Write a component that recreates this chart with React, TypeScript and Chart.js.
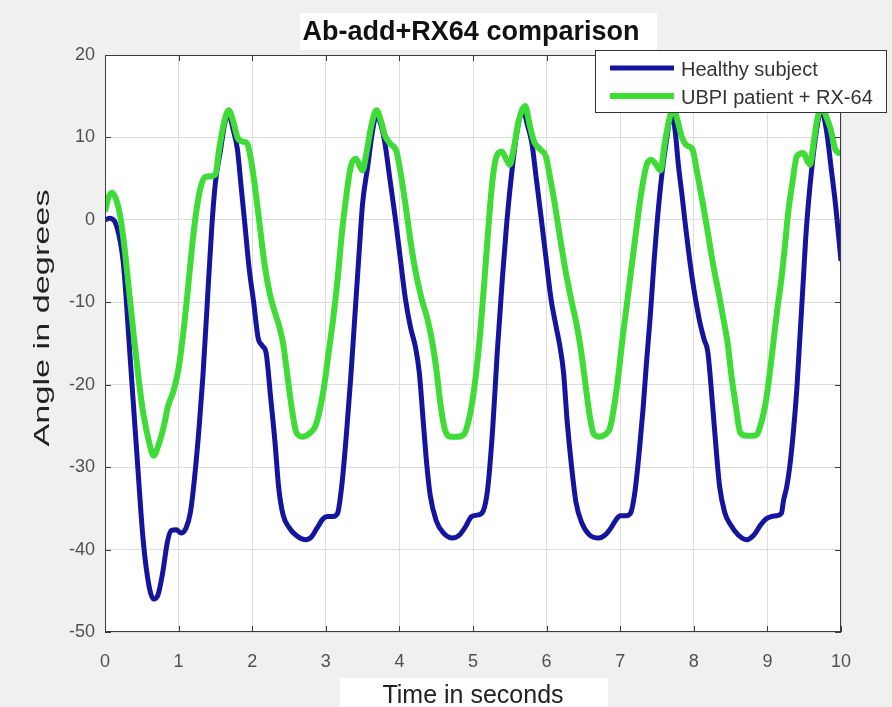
import React, { useEffect, useRef } from "react";
import { Chart, registerables } from "chart.js";

Chart.register(...registerables);

const chartTitle = "Ab-add+RX64 comparison";
const xAxisLabel = "Time in seconds";
const yAxisLabel = "Angle in degrees";
const seriesLabels = ["Healthy subject", "UBPI patient + RX-64"];
const seriesColors = ["#14149e", "#3fdc38"];

const xTickValues = [0, 1, 2, 3, 4, 5, 6, 7, 8, 9, 10];
const yTickValues = [-50, -40, -30, -20, -10, 0, 10, 20];

const healthyTime = [
  0, 0.07, 0.16, 0.25, 0.34, 0.43, 0.52, 0.6, 0.66, 0.72,
  0.78, 0.85, 0.9, 0.97, 1.03, 1.1, 1.16, 1.22, 1.28, 1.33,
  1.39, 1.45, 1.5, 1.57, 1.63, 1.68, 1.74, 1.8, 1.85, 1.9,
  1.96, 2.02, 2.08, 2.14, 2.19, 2.25, 2.31, 2.36, 2.42, 2.5,
  2.6, 2.72, 2.8, 2.88, 2.96, 3.02, 3.1, 3.16, 3.22, 3.28,
  3.34, 3.4, 3.46, 3.5, 3.57, 3.63, 3.69, 3.75, 3.8, 3.87,
  3.94, 4.01, 4.08, 4.15, 4.22, 4.27, 4.32, 4.37, 4.42, 4.5,
  4.6, 4.72, 4.82, 4.9, 4.98, 5.07, 5.14, 5.2, 5.27, 5.33,
  5.4, 5.46, 5.53, 5.6, 5.68, 5.74, 5.8, 5.86, 5.92, 5.99,
  6.06, 6.13, 6.18, 6.23, 6.28, 6.34, 6.4, 6.48, 6.58, 6.71,
  6.8, 6.88, 6.95, 7.0, 7.08, 7.14, 7.2, 7.26, 7.31, 7.36,
  7.41, 7.46, 7.5, 7.57, 7.64, 7.7, 7.75, 7.79, 7.84, 7.88,
  7.98, 8.07, 8.14, 8.19, 8.26, 8.31, 8.35, 8.42, 8.5, 8.6,
  8.72, 8.82, 8.91, 8.98, 9.05, 9.12, 9.19, 9.22, 9.26, 9.3,
  9.35, 9.4, 9.44, 9.48, 9.53, 9.6, 9.67, 9.73, 9.8, 9.87,
  9.93, 10,
];
const healthyAngle = [
  0, 0.2, -0.8, -5.3, -16.5, -28, -39, -44.5, -46, -45.5,
  -43, -39, -37.7, -37.6, -38, -37.4, -35.5, -31, -25, -19,
  -10, -1, 4.5, 8.5, 11.8, 12.8, 11, 8.5, 4, -0.5,
  -6, -10, -14.3, -15.3, -16.2, -21.5, -27, -32.5, -35.8, -37.3,
  -38.3, -38.8, -38.5, -37.4, -36.3, -36, -36, -35.6, -32, -26,
  -19, -11, -3, 2, 6.5, 10.5, 12.8, 11.5, 9.5, 5,
  0.5, -4.5, -9.5, -13, -15.5, -18.5, -24, -29.5, -33.5, -36.5,
  -38, -38.6, -38.2, -37.2, -36, -35.8, -35.3, -32.6, -25, -16,
  -7, -0.2, 6, 10.8, 13.3, 11.5, 9.3, 5, 0.7, -4.5,
  -9.6, -13, -15.3, -18.5, -24.5, -30, -34.3, -36.8, -38.2, -38.6,
  -38.2, -37.3, -36.3, -35.9, -35.9, -35.6, -33, -28, -23, -17,
  -11.5, -5, -0.5, 5.8, 10.3, 13.2, 10.5, 6.7, 3, -0.2,
  -7.2, -11.9, -14.5, -16, -23, -28.5, -32.3, -35.5, -37, -38.2,
  -38.8, -38.2, -37, -36.3, -36, -35.9, -35.6, -34, -32.5, -30.2,
  -26, -20.5, -14.5, -8.5, -1, 6, 11, 13.3, 11, 6,
  1.5, -5,
];

const patientTime = [
  0, 0.05, 0.1, 0.15, 0.2, 0.26, 0.32, 0.39, 0.46, 0.52,
  0.6, 0.66, 0.72, 0.8, 0.86, 0.93, 1.0, 1.06, 1.12, 1.18,
  1.24, 1.3, 1.36, 1.45, 1.5, 1.55, 1.61, 1.68, 1.74, 1.8,
  1.87, 1.93, 1.98, 2.03, 2.1, 2.17, 2.24, 2.3, 2.37, 2.42,
  2.48, 2.54, 2.6, 2.68, 2.78, 2.86, 2.92, 2.98, 3.04, 3.1,
  3.16, 3.22, 3.28, 3.34, 3.41, 3.47, 3.5, 3.55, 3.62, 3.69,
  3.75, 3.8, 3.88, 3.96, 4.02, 4.08, 4.15, 4.22, 4.3, 4.38,
  4.44, 4.5, 4.56, 4.62, 4.7, 4.8, 4.88, 4.95, 5.0, 5.05,
  5.1, 5.15, 5.2, 5.25, 5.3, 5.39, 5.46, 5.5, 5.55, 5.62,
  5.71, 5.77, 5.83, 5.92, 5.99, 6.05, 6.11, 6.18, 6.25, 6.33,
  6.41, 6.47, 6.53, 6.59, 6.64, 6.72, 6.8, 6.86, 6.92, 6.98,
  7.03, 7.08, 7.15, 7.22, 7.29, 7.36, 7.42, 7.48, 7.55, 7.6,
  7.67, 7.72, 7.78, 7.84, 7.91, 7.98, 8.05, 8.12, 8.19, 8.26,
  8.33, 8.4, 8.46, 8.51, 8.57, 8.63, 8.72, 8.8, 8.86, 8.92,
  8.98, 9.04, 9.09, 9.14, 9.19, 9.24, 9.28, 9.34, 9.4, 9.49,
  9.55, 9.58, 9.63, 9.68, 9.74, 9.8, 9.86, 9.92, 10,
];
const patientAngle = [
  1, 2.8, 3.3, 2.5, 0.8, -3, -8, -14, -19.5, -23.5,
  -27, -28.6, -27.5, -25, -22.5, -20.8, -18, -14, -9, -3.5,
  1, 4, 5.2, 5.3, 5.5, 8.5, 11.5, 13.3, 12, 10,
  9.5, 9.3, 7.5, 4.5, -0.5, -5.5, -9, -11, -13, -15,
  -19, -23, -25.8, -26.3, -25.9, -25, -23, -20, -16, -12,
  -7.2, -1.5, 3, 6.5, 7.4, 6.4, 6, 8, 11.5, 13.3,
  12, 10.3, 9.2, 8.3, 5.5, 2, -2.5, -6.3, -9.5, -12,
  -14.5, -18, -22.5, -25.5, -26.3, -26.3, -26, -24, -21.5, -18,
  -13.5, -8, -2, 3.5, 7, 8.3, 7.2, 6.7, 8.5, 12,
  13.8, 11.5, 9.5, 8.5, 7.7, 5, 2, -2, -5.8, -9.5,
  -12.8, -16, -20.1, -24, -26, -26.3, -26, -25.3, -22.5, -18.5,
  -14.5, -11, -6, -1.1, 3.5, 6.7, 7.3, 6.8, 6, 9,
  12.3, 13.7, 12, 10, 9, 8.6, 5.5, 2.1, -1.5, -5.3,
  -8.5, -11.9, -15, -18.8, -22.5, -25.8, -26.2, -26.2, -26, -24.5,
  -22, -18, -14.2, -10.5, -7.2, -3, 0.7, 4.5, 7.7, 8.1,
  7, 6.7, 9.5, 12.3, 13.8, 12.5, 11, 8.6, 8,
];

const FONT = '"Liberation Sans", Arial, Helvetica, sans-serif';

const decorPlugin = {
  id: "matlabDecor",
  beforeDraw(chart: any) {
    const { ctx, chartArea: a, width, height } = chart;
    ctx.save();
    ctx.fillStyle = "#f0f0f0";
    ctx.fillRect(0, 0, width, height);
    ctx.fillStyle = "#ffffff";
    ctx.fillRect(a.left, a.top, a.right - a.left, a.bottom - a.top);
    ctx.restore();
  },
  afterDatasetsDraw(chart: any) {
    const { ctx, chartArea: a, scales } = chart;
    ctx.save();
    ctx.strokeStyle = "#3a3a3a";
    ctx.lineWidth = 1;
    ctx.beginPath();
    const tl = 6;
    for (const v of xTickValues) {
      const px = Math.round(scales.x.getPixelForValue(v)) + 0.5;
      ctx.moveTo(px, a.bottom);
      ctx.lineTo(px, a.bottom - tl);
      ctx.moveTo(px, a.top);
      ctx.lineTo(px, a.top + tl);
    }
    for (const v of yTickValues) {
      const py = Math.round(scales.y.getPixelForValue(v)) + 0.5;
      ctx.moveTo(a.left, py);
      ctx.lineTo(a.left + tl, py);
      ctx.moveTo(a.right, py);
      ctx.lineTo(a.right - tl, py);
    }
    ctx.stroke();
    ctx.strokeRect(a.left + 0.5, a.top + 0.5, a.right - a.left - 1, a.bottom - a.top - 1);
    ctx.restore();
  },
  afterDraw(chart: any) {
    const { ctx, chartArea: a } = chart;
    const cx = (a.left + a.right) / 2;
    ctx.save();
    // Title with white backing
    ctx.fillStyle = "#ffffff";
    ctx.fillRect(300, 13, 357, 37);
    ctx.fillStyle = "#111111";
    ctx.font = `bold 27px ${FONT}`;
    ctx.textAlign = "center";
    ctx.textBaseline = "alphabetic";
    ctx.fillText(chartTitle, cx - 2, 40);

    // X label with white backing
    ctx.fillStyle = "#ffffff";
    ctx.fillRect(340, 678, 268, 29);
    ctx.fillStyle = "#222222";
    ctx.font = `25px ${FONT}`;
    ctx.fillText(xAxisLabel, cx, 703);

    // Y label (rotated, stretched along its length as in the reference)
    ctx.save();
    ctx.translate(43, 318);
    ctx.rotate(-Math.PI / 2);
    ctx.font = `22px ${FONT}`;
    const w = ctx.measureText(yAxisLabel).width;
    ctx.scale(257 / w, 1);
    ctx.textBaseline = "middle";
    ctx.fillText(yAxisLabel, 0, 0);
    ctx.restore();

    // Legend
    const lx = 595, ly = 50, lw = 292, lh = 63;
    ctx.fillStyle = "#ffffff";
    ctx.fillRect(lx, ly, lw, lh);
    ctx.strokeStyle = "#333333";
    ctx.lineWidth = 1;
    ctx.strokeRect(lx + 0.5, ly + 0.5, lw - 1, lh - 1);
    const rows = [68, 96];
    chart.data.datasets.forEach((ds: any, i: number) => {
      const y = rows[i];
      ctx.strokeStyle = ds.borderColor;
      ctx.lineWidth = ds.borderWidth;
      ctx.beginPath();
      ctx.moveTo(610, y);
      ctx.lineTo(674, y);
      ctx.stroke();
      ctx.fillStyle = "#333333";
      ctx.font = `20px ${FONT}`;
      ctx.textAlign = "left";
      ctx.textBaseline = "middle";
      ctx.fillText(ds.label, 681, y + 2);
    });
    ctx.restore();
  },
};

export default function App() {
  const ref = useRef<HTMLCanvasElement>(null);
  useEffect(() => {
    const healthy = healthyTime.map((t, i) => ({ x: t, y: healthyAngle[i] }));
    const patient = patientTime.map((t, i) => ({ x: t, y: patientAngle[i] }));
    const chart = new Chart(ref.current as HTMLCanvasElement, {
      type: "line",
      data: {
        datasets: [
          {
            label: seriesLabels[0],
            data: healthy,
            borderColor: seriesColors[0],
            backgroundColor: seriesColors[0],
            borderWidth: 5,
            pointRadius: 0,
            cubicInterpolationMode: "monotone",
            order: 1,
            fill: false,
          },
          {
            label: seriesLabels[1],
            data: patient,
            borderColor: seriesColors[1],
            backgroundColor: seriesColors[1],
            borderWidth: 6,
            pointRadius: 0,
            cubicInterpolationMode: "monotone",
            order: 0,
            fill: false,
          },
        ],
      },
      options: {
        animation: false,
        responsive: false,
        maintainAspectRatio: false,
        layout: { padding: { left: 0, right: 51, top: 55, bottom: 0 } },
        plugins: {
          legend: { display: false },
          title: { display: false },
          tooltip: { enabled: false },
        },
        scales: {
          x: {
            type: "linear",
            min: 0,
            max: 10,
            afterBuildTicks: (s: any) => {
              s.ticks = xTickValues.map((v) => ({ value: v }));
            },
            afterFit: (s: any) => {
              s.height = 75;
            },
            grid: { color: "#dddddd", lineWidth: 1, drawTicks: false },
            border: { display: false },
            ticks: {
              padding: 19,
              color: "#505050",
              font: { family: FONT, size: 18 },
              maxRotation: 0,
              autoSkip: false,
            },
          },
          y: {
            type: "linear",
            min: -50,
            max: 20,
            afterBuildTicks: (s: any) => {
              s.ticks = yTickValues.map((v) => ({ value: v }));
            },
            afterFit: (s: any) => {
              s.width = 105;
            },
            grid: { color: "#dddddd", lineWidth: 1, drawTicks: false },
            border: { display: false },
            ticks: {
              padding: 10,
              color: "#505050",
              font: { family: FONT, size: 18 },
              autoSkip: false,
            },
          },
        },
      },
      plugins: [decorPlugin],
    });
    return () => chart.destroy();
  }, []);
  return (
    <div style={{ position: "fixed", left: 0, top: 0, width: 892, height: 707 }}>
      <canvas ref={ref} width={892} height={707} style={{ display: "block", width: 892, height: 707 }} />
    </div>
  );
}
